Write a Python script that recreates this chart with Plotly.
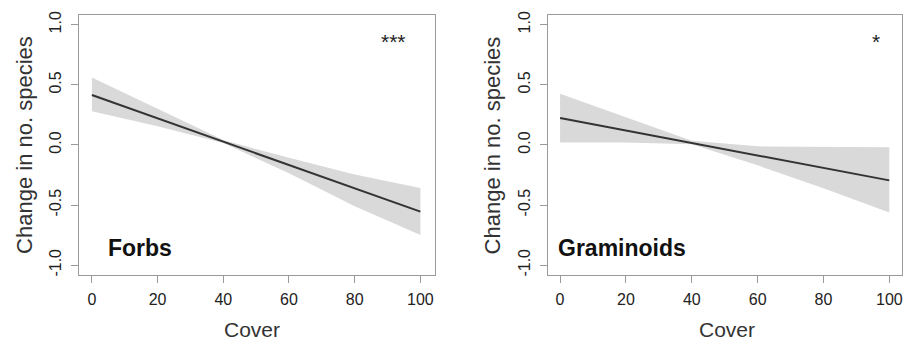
import plotly.graph_objects as go

# ---- data ----
cover = [0, 20, 40, 60, 80, 100]
forbs_fit = [0.415, 0.221, 0.027, -0.167, -0.361, -0.555]
forbs_upper = [0.56, 0.30, 0.04, -0.107, -0.245, -0.358]
forbs_lower = [0.28, 0.155, 0.015, -0.235, -0.51, -0.75]

gram_fit = [0.224, 0.12, 0.016, -0.087, -0.191, -0.295]
gram_upper = [0.426, 0.228, 0.035, -0.012, -0.016, -0.02]
gram_lower = [0.02, 0.02, 0.005, -0.17, -0.36, -0.563]

x_ticks = [0, 20, 40, 60, 80, 100]
y_ticks = [-1.0, -0.5, 0.0, 0.5, 1.0]
y_ticklabels = ["-1.0", "-0.5", "0.0", "0.5", "1.0"]
panels = ["Forbs", "Graminoids"]
signif = ["***", "*"]

W, H = 903, 345
FONT = "Liberation Sans, Arial, sans-serif"
BAND = "#d9d9d9"
LINE = "#333333"
BOX = "#9a9a9a"

fig = go.Figure()

series = [(forbs_fit, forbs_upper, forbs_lower), (gram_fit, gram_upper, gram_lower)]
for i, (fit, up, lo) in enumerate(series):
    xa = "x" if i == 0 else "x2"
    ya = "y" if i == 0 else "y2"
    fig.add_trace(go.Scatter(
        x=cover + cover[::-1], y=up + lo[::-1], fill="toself",
        fillcolor=BAND, line=dict(width=0), mode="lines",
        xaxis=xa, yaxis=ya, showlegend=False, hoverinfo="skip"))
    fig.add_trace(go.Scatter(
        x=cover, y=fit, mode="lines", line=dict(color=LINE, width=2),
        xaxis=xa, yaxis=ya, showlegend=False))

# pixel layout
left_dom = [79 / W, 435 / W]
right_dom = [548.3 / W, 1.0]
ydom = [1 - 275 / H, 1 - 11 / H]

axis_common = dict(
    showgrid=False, zeroline=False, showline=True, linecolor=BOX, linewidth=1.3,
    mirror=True, ticks="outside", ticklen=7, tickcolor=BOX, tickwidth=1.2,
    tickfont=dict(family=FONT, size=16, color="#222222"),
)

fig.update_layout(
    width=W, height=H, margin=dict(l=0, r=0, t=0, b=0),
    paper_bgcolor="white", plot_bgcolor="white",
    xaxis=dict(domain=left_dom, range=[-3.95, 104.3], tickvals=x_ticks,
               anchor="y", ticklabelstandoff=3, **axis_common),
    yaxis=dict(domain=ydom, range=[-1.082, 1.082], tickvals=y_ticks,
               ticktext=y_ticklabels, tickangle=-90, anchor="x",
               ticklabelstandoff=3, **axis_common),
    xaxis2=dict(domain=right_dom, range=[-3.76, 103.85], tickvals=x_ticks,
                anchor="y2", ticklabelstandoff=3, **axis_common),
    yaxis2=dict(domain=ydom, range=[-1.082, 1.082], tickvals=y_ticks,
                ticktext=y_ticklabels, tickangle=-90, anchor="x2",
                ticklabelstandoff=3, **axis_common),
)

ann = []
# axis titles
for xc in [252, 728]:
    ann.append(dict(text="Cover", x=xc / W, y=1 - 330 / H, xref="paper", yref="paper",
                    showarrow=False, font=dict(family=FONT, size=21, color="#333333"),
                    xanchor="center", yanchor="middle"))
for xc in [25, 493]:
    ann.append(dict(text="Change in no. species", x=xc / W, y=1 - 143 / H,
                    xref="paper", yref="paper", textangle=-90, showarrow=False,
                    font=dict(family=FONT, size=22, color="#333333"),
                    xanchor="center", yanchor="middle"))
# panel labels
for i, (name, xl) in enumerate(zip(panels, [106, 557])):
    ann.append(dict(text="<b>%s</b>" % name, x=xl / W, y=1 - 248 / H,
                    xref="paper", yref="paper", showarrow=False,
                    font=dict(family=FONT, size=23, color="#111111"),
                    xanchor="left", yanchor="middle"))
for s, xc in zip(signif, [394, 877]):
    ann.append(dict(text=s, x=xc / W, y=1 - 38 / H, xref="paper", yref="paper",
                    showarrow=False, font=dict(family=FONT, size=21, color="#222222"),
                    xanchor="center", yanchor="middle"))
fig.update_layout(annotations=ann)

fig.write_html(
    "out.html",
    config={"displayModeBar": False},
    post_script="document.body.style.margin='0';document.body.style.overflow='hidden';",
)
